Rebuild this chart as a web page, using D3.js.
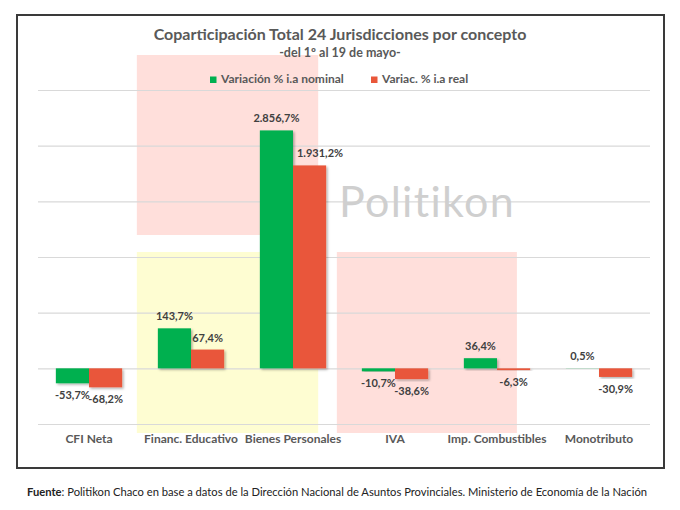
<!DOCTYPE html>
<html>
<head>
<meta charset="utf-8">
<script src="https://cdn.jsdelivr.net/npm/d3@7"></script>
<style>
  body { margin: 0; background: #fff; }
  text { font-family: Lato, "Open Sans", sans-serif; }
</style>
</head>
<body>
<div id="chart"></div>
<script>
// Coparticipación por concepto: variación interanual nominal vs real

const categories = ["CFI Neta", "Financ. Educativo", "Bienes Personales", "IVA", "Imp. Combustibles", "Monotributo"];
const seriesNames = ["Variación % i.a nominal", "Variac. % i.a real"];
const nominal = [-53.7, 143.7, 2856.7, -10.7, 36.4, 0.5];
const real = [-68.2, 67.4, 1931.2, -38.6, -6.3, -30.9];
const gridTicks = [-200, 0, 200, 400, 600, 800, 1000];

const colors = ["#00B050", "#E9573A"];
const w = 680, h = 510;
const pL = 38, pR = 30, pT = 90, pB = 424; // plot area edges

const svg = d3.select("#chart").append("svg")
  .attr("width", w)
  .attr("height", h);

// drop shadow for bars
const defs = svg.append("defs");
defs.append("filter").attr("id", "shadow")
  .attr("x", "-20%").attr("y", "-20%").attr("width", "140%").attr("height", "140%")
  .append("feDropShadow")
  .attr("dx", 1.5).attr("dy", 1.5).attr("stdDeviation", 0.8)
  .attr("flood-color", "#000").attr("flood-opacity", 0.3);

// outer frame
svg.append("rect")
  .attr("x", 17).attr("y", 15)
  .attr("width", 647).attr("height", 453)
  .attr("fill", "#fff")
  .attr("stroke", "#3a3a3a")
  .attr("stroke-width", 2);

// scales
const x = d3.scaleBand()
  .domain(categories)
  .range([pL, w - pR])
  .paddingInner(0.35)
  .paddingOuter(0.175);

const xSub = d3.scaleBand()
  .domain([0, 1])
  .range([0, x.bandwidth()]);

// gridlines are evenly spaced; bars above the break are compressed
const grid = d3.scaleLinear()
  .domain([-200, 1000])
  .range([pB, pT]);

const yBreak = 540;
const y = d3.scaleLinear()
  .domain([-200, yBreak, 3000])
  .range([pB, grid(yBreak), 125]);

// highlight boxes behind the bars
const boxes = [
  {x0: x("Financ. Educativo") - 21, x1: x("Bienes Personales") + x.bandwidth() * 0.88, y0: 55, y1: 235, fill: "#FFDFDB"},
  {x0: x("Financ. Educativo") - 21, x1: x("Bienes Personales") + x.bandwidth() * 0.88, y0: 252, y1: 433, fill: "#FEFDD2"},
  {x0: x("IVA") - 25, x1: x("Imp. Combustibles") + x.bandwidth() * 0.8, y0: 252, y1: 433, fill: "#FFDFDB"}
];
svg.selectAll(".box")
  .data(boxes)
  .enter().append("rect")
  .attr("class", "box")
  .attr("x", d => d.x0)
  .attr("y", d => d.y0)
  .attr("width", d => d.x1 - d.x0)
  .attr("height", d => d.y1 - d.y0)
  .attr("fill", d => d.fill);

// gridlines
svg.append("g")
  .attr("transform", `translate(${pL} 0)`)
  .call(d3.axisLeft(grid).tickValues(gridTicks).tickSize(-(w - pR - pL)).tickFormat(""))
  .call(g => g.select(".domain").remove())
  .call(g => g.selectAll(".tick line").attr("stroke", "#D9D9D9").attr("stroke-width", 1.2));

// watermark
svg.append("text")
  .attr("x", 339)
  .attr("y", 217)
  .attr("font-size", 43)
  .attr("fill", "#CFCFCF")
  .attr("letter-spacing", 1.3)
  .text("Politikon");

// title
svg.append("text")
  .attr("x", 340).attr("y", 40)
  .attr("text-anchor", "middle")
  .attr("font-size", 16)
  .attr("font-weight", "bold")
  .attr("fill", "#595959")
  .text("Coparticipación Total 24 Jurisdicciones por concepto");

svg.append("text")
  .attr("x", 340).attr("y", 57)
  .attr("text-anchor", "middle")
  .attr("font-size", 12.5)
  .attr("font-weight", "bold")
  .attr("fill", "#595959")
  .text("-del 1º al 19 de mayo-");

// legend
const legendX = [210, 371];
const legend = svg.selectAll(".legend")
  .data(seriesNames)
  .enter().append("g")
  .attr("class", "legend")
  .attr("transform", (d, i) => `translate(${legendX[i]} 76.5)`);

legend.append("rect")
  .attr("width", 6.5).attr("height", 6.5)
  .attr("fill", (d, i) => colors[i]);

legend.append("text")
  .attr("x", 11).attr("y", 6.5)
  .attr("font-size", 12)
  .attr("font-weight", "bold")
  .attr("fill", "#595959")
  .text(d => d);

// bars
const rows = categories.map((c, i) => ({cat: c, vals: [nominal[i], real[i]]}));
const es = d3.formatLocale({decimal: ",", thousands: ".", grouping: [3], currency: ["$", ""], minus: "-"});
const fmt = v => es.format(",.1f")(v) + "%";

const groups = svg.selectAll(".cat")
  .data(rows)
  .enter().append("g")
  .attr("class", "cat")
  .attr("transform", d => `translate(${x(d.cat)} 0)`);

groups.selectAll("rect")
  .data(d => d.vals)
  .enter().append("rect")
  .attr("x", (d, i) => xSub(i))
  .attr("y", d => y(Math.max(0, d)))
  .attr("width", xSub.bandwidth())
  .attr("height", d => Math.abs(y(d) - y(0)))
  .attr("fill", (d, i) => colors[i])
  .attr("filter", "url(#shadow)");

groups.selectAll(".val")
  .data(d => d.vals)
  .enter().append("text")
  .attr("class", "val")
  .attr("x", (d, i) => xSub(i) + xSub.bandwidth() / 2)
  .attr("y", d => d >= 0 ? y(d) - 8 : y(d) + 16)
  .attr("text-anchor", "middle")
  .attr("font-size", 11)
  .attr("font-weight", "bold")
  .attr("fill", "#404040")
  .text(d => fmt(d))
  .each(function(d, i) {
    // wide labels on the second bar would run over the first one: push right
    const tw = this.getComputedTextLength();
    if (i === 1 && d >= 0 && tw > xSub.bandwidth()) {
      d3.select(this).attr("text-anchor", "start").attr("x", xSub(1) + 4);
    }
  });

// category axis
svg.append("g")
  .attr("transform", `translate(0 ${pB})`)
  .call(d3.axisBottom(x).tickSize(0).tickPadding(10))
  .call(g => g.select(".domain").remove())
  .call(g => g.selectAll("text")
    .attr("font-family", "Lato, sans-serif")
    .attr("font-size", 12)
    .attr("font-weight", "bold")
    .attr("fill", "#595959"));

// source note
const src = svg.append("text")
  .attr("x", 27).attr("y", 496)
  .attr("font-size", 11.2)
  .attr("fill", "#222");
src.append("tspan").attr("font-weight", "bold").text("Fuente");
src.append("tspan").text(": Politikon Chaco en base a datos de la Dirección Nacional de Asuntos Provinciales. Ministerio de Economía de la Nación");
</script>
</body>
</html>
